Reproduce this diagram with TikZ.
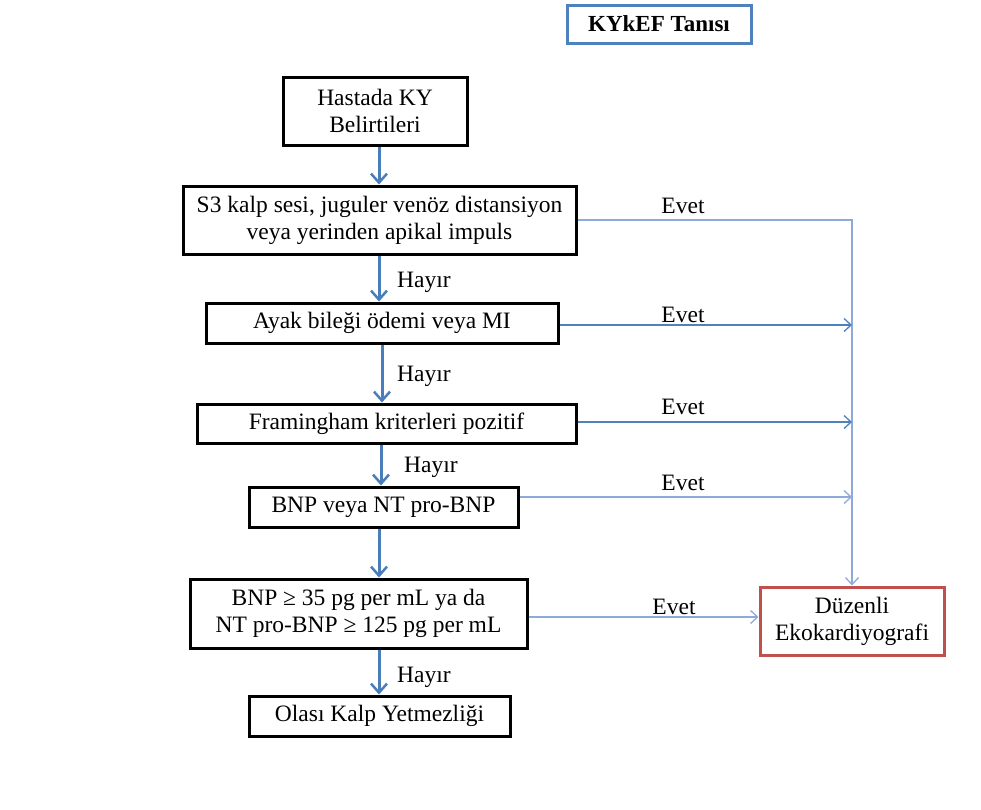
\documentclass[tikz,border=0pt]{standalone}
\usepackage{fontspec}
\setmainfont{Liberation Serif}
\usetikzlibrary{arrows.meta,calc}
\definecolor{thickblue}{RGB}{74,126,187}
\definecolor{thinblue}{RGB}{79,129,189}
\definecolor{paleblue}{RGB}{142,170,219}
\definecolor{boxred}{RGB}{192,80,77}
\begin{document}
\begin{tikzpicture}[x=1pt,y=-1pt,
  every node/.style={font=\fontsize{23.5}{27}\selectfont, inner sep=0pt},
  box/.style={draw=black, line width=3pt, align=center},
  flow/.style={draw=thickblue, line width=3pt, -{Straight Barb[length=9pt,width=16pt,line width=2.5pt]}},
  yes/.style={draw=paleblue, line width=1.5pt},
  yesarr/.style={yes, -{Straight Barb[length=7pt,width=13pt,line width=1.3pt]}},
  lbl/.style={anchor=base},
  hlbl/.style={anchor=base west}]
\useasboundingbox (0,0) rectangle (981,809);

\node[draw=thinblue, line width=3pt, minimum width=184pt, minimum height=38pt,
  font=\fontsize{23}{27}\selectfont\bfseries] (title) at (659,24) {KYkEF Tanısı};

\node[box, minimum width=184pt, minimum height=68pt] (n1) at (375,111) {Hastada KY\\Belirtileri};
\node[box, minimum width=393pt, minimum height=68pt] (n2) at (379.5,220) {S3 kalp sesi, juguler venöz distansiyon\\veya yerinden apikal impuls};
\node[box, minimum width=352pt, minimum height=40pt] (n3) at (382,323) {Ayak bileği ödemi veya MI};
\node[box, minimum width=379pt, minimum height=39pt] (n4) at (386.5,423.5) {Framingham kriterleri pozitif};
\node[box, minimum width=269pt, minimum height=40pt] (n5) at (383.5,507) {BNP veya NT pro-BNP};
\node[box, minimum width=337pt, minimum height=69pt] (n6) at (358.5,613.5) {BNP ≥ 35 pg per mL ya da\\NT pro-BNP ≥ 125 pg per mL};
\node[box, minimum width=261pt, minimum height=40pt] (n7) at (379.5,716) {Olası Kalp Yetmezliği};
\node[box, draw=boxred, minimum width=184pt, minimum height=68pt] (dz) at (852,621) {Düzenli\\Ekokardiyografi};

% vertical flow
\draw[flow] (n1.south -| 379,0) -- (n2.north -| 379,0);
\draw[flow] (n2.south -| 379,0) -- (n3.north -| 379,0);
\draw[flow] (n3.south -| 382,0) -- (n4.north -| 382,0);
\draw[flow] (n4.south -| 381,0) -- (n5.north -| 381,0);
\draw[flow] (n5.south -| 379,0) -- (n6.north -| 379,0);
\draw[flow] (n6.south -| 379,0) -- (n7.north -| 379,0);

\node[hlbl] (h1) at (397,287) {Hayır};
\node[hlbl] (h2) at (397,381) {Hayır};
\node[hlbl] (h3) at (404,472) {Hayır};
\node[hlbl] (h4) at (397,682) {Hayır};

% yes branches
\coordinate (a3) at ($(n3.east)+(0,2)$);
\coordinate (a4) at ($(n4.east)+(0,-1.5)$);
\coordinate (a5) at ($(n5.east)+(0,-10)$);
\coordinate (a6) at ($(n6.east)+(0,3.5)$);
\draw[yesarr] (n2.east) -| (dz.north);
\draw[yesarr, draw=thinblue] (a3) -- (a3 -| dz.north);
\draw[yesarr, draw=thinblue] (a4) -- (a4 -| dz.north);
\draw[yesarr] (a5) -- (a5 -| dz.north);
\draw[yesarr] (a6) -- (a6 -| dz.west);

\node[lbl] (e1) at (683,213) {Evet};
\node[lbl] (e2) at (683,322) {Evet};
\node[lbl] (e3) at (683,414) {Evet};
\node[lbl] (e4) at (683,490) {Evet};
\node[lbl] (e5) at (674,614) {Evet};
\end{tikzpicture}
\end{document}
